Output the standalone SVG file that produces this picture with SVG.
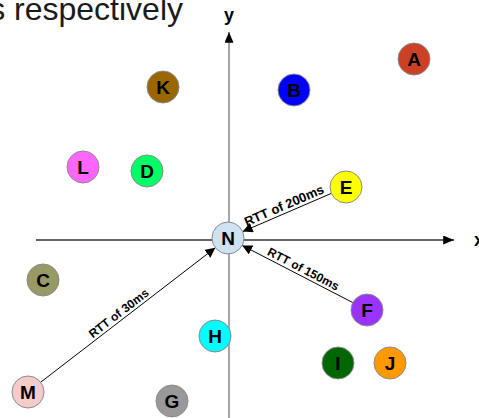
<svg xmlns="http://www.w3.org/2000/svg" width="479" height="418" viewBox="0 0 479 418">
<defs>
<marker id="ah" viewBox="0 0 10 10" refX="10" refY="5" markerWidth="10" markerHeight="10" markerUnits="userSpaceOnUse" orient="auto">
<path d="M0,0 L10,5 L0,10 z" fill="#000"/>
</marker>
<marker id="axh" viewBox="0 0 12 10" refX="12" refY="5" markerWidth="12" markerHeight="9" markerUnits="userSpaceOnUse" orient="auto">
<path d="M0,0 L12,5 L0,10 z" fill="#000"/>
</marker>
</defs>
<style>
.node circle{stroke:#8a8a8a;stroke-width:1}
.node text{font-family:"Liberation Sans",Arial,sans-serif;font-weight:bold;font-size:19px;fill:#000;text-anchor:middle}
.lbl{font-family:"Liberation Sans",Arial,sans-serif;font-weight:bold;font-size:12px;fill:#000;text-anchor:middle}
.axl{font-family:"Liberation Sans",Arial,sans-serif;font-weight:bold;font-size:18px;fill:#000;text-anchor:middle}
.conn{stroke:#000;stroke-width:1;fill:none;marker-end:url(#ah)}
</style>
<rect width="479" height="418" fill="#fff"/>
<text x="183" y="20" font-family="'Liberation Sans',Arial,sans-serif" font-size="32" fill="#1a1a1a" text-anchor="end">s respectively</text>
<g id="axes">
<line x1="229" y1="418" x2="229" y2="32" stroke="#777" stroke-width="1.3" marker-end="url(#axh)"/>
<line x1="36" y1="240" x2="454" y2="240" stroke="#333" stroke-width="1.3" marker-end="url(#axh)"/>
<text class="axl" x="229" y="21">y</text>
<text class="axl" x="479" y="246">x</text>
</g>
<g id="connectors">
<line class="conn" x1="331.3" y1="193.4" x2="242.7" y2="231.6"/>
<line class="conn" x1="352.8" y1="302.6" x2="242.2" y2="245.4"/>
<line class="conn" x1="40.7" y1="382.2" x2="215.3" y2="247.8"/>
<text class="lbl" style="font-size:13px" transform="translate(285.8,209.5) rotate(-23.4)">RTT of 200ms</text>
<text class="lbl" transform="translate(301.4,272.6) rotate(27.4)">RTT of 150ms</text>
<text class="lbl" transform="translate(121.2,316.5) rotate(-37.6)">RTT of 30ms</text>
</g>
<g id="N" class="node"><circle cx="228" cy="238" r="16" fill="#cfe2f3"/><text x="228" y="245">N</text></g>
<g id="A" class="node"><circle cx="414" cy="59" r="16" fill="#cc4125"/><text x="414" y="66">A</text></g>
<g id="B" class="node"><circle cx="294" cy="90" r="16" fill="#0000ff"/><text x="294" y="97">B</text></g>
<g id="K" class="node"><circle cx="163" cy="87" r="16" fill="#996600"/><text x="163" y="94">K</text></g>
<g id="L" class="node"><circle cx="83" cy="167" r="16" fill="#ff66ff"/><text x="83" y="174">L</text></g>
<g id="D" class="node"><circle cx="147" cy="171" r="16" fill="#00ff66"/><text x="147" y="178">D</text></g>
<g id="E" class="node"><circle cx="346" cy="187" r="16" fill="#ffff00"/><text x="346" y="194">E</text></g>
<g id="C" class="node"><circle cx="43" cy="280" r="16" fill="#999966"/><text x="43" y="287">C</text></g>
<g id="F" class="node"><circle cx="367" cy="310" r="16" fill="#9933ff"/><text x="367" y="317">F</text></g>
<g id="H" class="node"><circle cx="215" cy="336" r="16" fill="#00ffff"/><text x="215" y="343">H</text></g>
<g id="I" class="node"><circle cx="338" cy="363" r="16" fill="#006600"/><text x="338" y="370">I</text></g>
<g id="J" class="node"><circle cx="390" cy="363" r="16" fill="#ff9900"/><text x="390" y="370">J</text></g>
<g id="M" class="node"><circle cx="28" cy="392" r="16" fill="#f4cccc"/><text x="28" y="399">M</text></g>
<g id="G" class="node"><circle cx="172" cy="401" r="16" fill="#999999"/><text x="172" y="408">G</text></g>
</svg>
